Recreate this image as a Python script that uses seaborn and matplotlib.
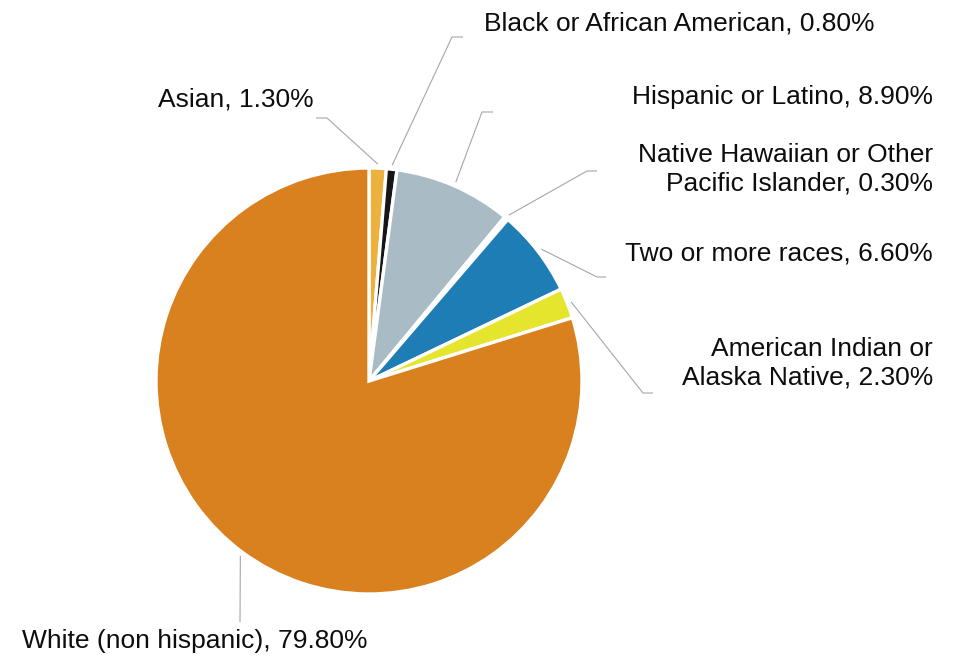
import matplotlib
matplotlib.use("Agg")
import matplotlib.pyplot as plt
import seaborn as sns
import numpy as np

# Race / ethnicity shares (percent), clockwise from 12 o'clock
categories = [
    "Asian",
    "Black or African American",
    "Hispanic or Latino",
    "Native Hawaiian or Other\nPacific Islander",
    "Two or more races",
    "American Indian or\nAlaska Native",
    "White (non hispanic)",
]
shares = [1.3, 0.8, 8.9, 0.3, 6.6, 2.3, 79.8]
colors = ["#EDB23E", "#161616", "#A9BCC5", "#FFFFFF", "#1E7DB4", "#E4E52C", "#D9801F"]

sns.set_theme(style="white")
plt.rcParams["font.family"] = ["Liberation Sans", "DejaVu Sans"]

W, H = 958, 659
fig = plt.figure(figsize=(W / 100, H / 100), dpi=100)
ax = fig.add_axes([0, 0, 1, 1])


def py(y):
    """Convert a top-down pixel row to the axes' y value."""
    return H - y


cx, cy, R = 369, py(381), 213
wedges, _ = ax.pie(
    shares,
    colors=colors,
    startangle=90,
    counterclock=False,
    center=(cx, cy),
    radius=R,
    wedgeprops=dict(edgecolor="white", linewidth=2.4),
    frame=True,
)
ax.set_xlim(0, W)
ax.set_ylim(0, H)
ax.set_aspect("equal")
ax.axis("off")

# label text placement: (x, y_px, ha) and leader elbow points in pixels
label_pos = [
    (158, 99, "left"),
    (484, 24, "left"),
    (933, 97, "right"),
    (933, 169, "right"),
    (933, 253, "right"),
    (933, 363, "right"),
    (22, 641, "left"),
]
elbows = [
    [(327, 118), (316, 118)],
    [(452, 37), (463, 37)],
    [(482, 112), (493, 112)],
    [(587, 171), (597, 171)],
    [(597, 277), (606, 277)],
    [(643, 393), (653, 393)],
    [(240, 622)],
]

line_color = "#A6A6A6"
for w, cat, val, (tx, ty, ha), elb in zip(wedges, categories, shares, label_pos, elbows):
    mid = np.deg2rad((w.theta1 + w.theta2) / 2)
    sx = cx + (R + 4) * np.cos(mid)
    sy = cy + (R + 4) * np.sin(mid)
    xs = [sx] + [p[0] for p in elb]
    ys = [sy] + [py(p[1]) for p in elb]
    ax.plot(xs, ys, color=line_color, lw=0.8, solid_capstyle="butt")
    ax.text(
        tx, py(ty), f"{cat}, {val:.2f}%",
        ha=ha, va="center", fontsize=19, color="#0D0D0D",
        linespacing=1.25, multialignment=ha,
    )

fig.savefig("out.png", dpi=100, facecolor="white")
